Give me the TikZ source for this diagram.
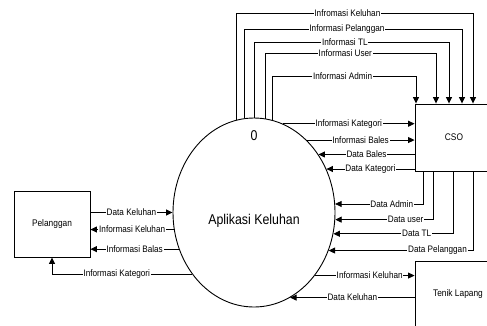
\documentclass[tikz,border=0pt]{standalone}
\usepackage{fontspec}
\setmainfont[FakeStretch=0.87]{Liberation Sans}
\usetikzlibrary{arrows.meta,shapes.geometric}

\begin{document}
\begin{tikzpicture}[x=1pt,y=-1pt,
  flow/.style={line width=0.9pt,-{Triangle[length=6.5pt,width=6pt]}},
  lbl/.style={fill=white,inner sep=0.8pt,font=\fontsize{9.4}{10}\selectfont},
  entity/.style={draw,line width=0.9pt,inner sep=0pt,font=\fontsize{9.6}{11}\selectfont},
  process/.style={draw,ellipse,line width=0.9pt,inner sep=0pt,
    minimum width=162pt,minimum height=189pt},
  big/.style={font=\fontsize{14.2}{16}\selectfont,inner sep=0pt}]
\useasboundingbox (0,0) rectangle (487,325);

% process and external entities
\node[process] (e) at (254,212.5) {};
\node[big,anchor=base] (num) at (254,140.5) {0};
\node[big,anchor=base] (title) at (254,224) {Aplikasi Keluhan};
\node[entity,minimum width=76pt,minimum height=66pt] (pel) at (52,224) {Pelanggan};
\node[entity,minimum width=78pt,minimum height=67pt] (cso) at (454,137.5) {CSO};
\node[entity,minimum width=86pt,minimum height=66pt] (tek) at (458,294) {Tenik Lapang};

% loops over the top, process -> CSO
\draw[flow] (e.101.69) |- node[lbl,pos=0.735]{Infromasi Keluhan} (473,13) -- (473,13 |- cso.north);
\draw[flow] (e.96.70) |- node[lbl,pos=0.736]{Informasi Pelanggan} (462,29) -- (462,29 |- cso.north);
\draw[flow] (e.90) |- node[lbl,pos=0.733]{Informasi TL} (449,42) -- (449,42 |- cso.north);
\draw[flow] (e.83.91) |- node[lbl,pos=0.734]{Informasi User} (436,53) -- (436,53 |- cso.north);
\draw[flow] (e.79.57) |- node[lbl,pos=0.745]{Informasi Admin} (416,76) -- (416,76 |- cso.north);

% process <-> CSO, straight flows
\draw[flow] (e.72.21) -- node[lbl]{Informasi Kategori} (cso.west |- e.72.21);
\draw[flow] (e.54.38) -- node[lbl]{Informasi Bales} (cso.west |- e.54.38);
\draw[flow] (cso.west |- e.42.59) -- node[lbl]{Data Bales} (e.42.59);
\draw[flow] (cso.west |- e.31.17) -- node[lbl]{Data Kategori} (e.31.17);

% CSO -> process, from under the CSO box
\draw[flow] (423,0 |- cso.south) |- node[lbl,pos=0.678]{Data Admin} (e.6.72);
\draw[flow] (433,0 |- cso.south) |- node[lbl,pos=0.64]{Data user} (e.355.40);
\draw[flow] (453,0 |- cso.south) |- node[lbl,pos=0.652]{Data TL} (e.345.46);
\draw[flow] (473,0 |- cso.south) |- node[lbl,pos=0.623]{Data Pelanggan} (e.333.96);

% process <-> Tenik Lapang
\draw[flow] (e.314.19) -- node[lbl,pos=0.55]{Informasi Keluhan} (tek.west |- e.314.19);
\draw[flow] (tek.west |- e.293.23) -- node[lbl]{Data Keluhan} (e.293.23);

% process <-> Pelanggan
\draw[flow] (pel.east |- e.180) -- node[lbl]{Data Keluhan} (e.180);
\draw[flow] (e.192.40) -- node[lbl]{Informasi Keluhan} (pel.east |- e.192.40);
\draw[flow] (e.206.77) -- node[lbl]{Informasi Balas} (pel.east |- e.206.77);
\draw[flow] (e.225) -| node[lbl,pos=0.269]{Informasi Kategori} (pel.south);
\end{tikzpicture}
\end{document}
